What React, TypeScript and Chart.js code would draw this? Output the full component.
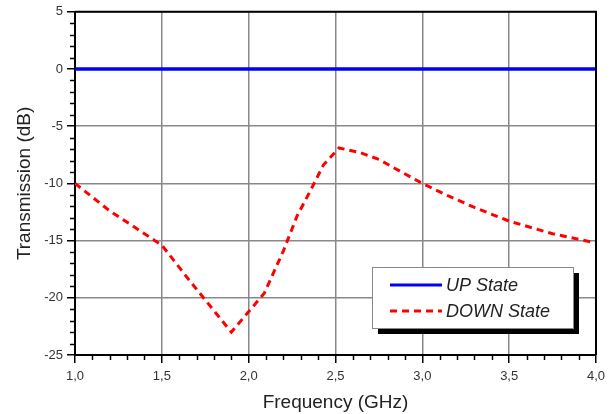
import React, { useEffect, useRef } from "react";
import { Chart, registerables } from "chart.js";

Chart.register(...registerables);

const upFreq = [1.0, 1.5, 2.0, 2.5, 3.0, 3.5, 4.0];
const upValues = [0, 0, 0, 0, 0, 0, 0];

const downFreq = [1.0, 1.2, 1.5, 1.66, 1.9, 2.09, 2.2, 2.28, 2.35, 2.43, 2.52, 2.64, 2.75, 2.82, 3.0, 3.15, 3.3, 3.5, 3.75, 4.0];
const downValues = [-10, -12.4, -15.4, -18.5, -23.0, -19.6, -15.9, -12.8, -10.8, -8.4, -6.9, -7.3, -7.9, -8.5, -10.0, -11.1, -12.1, -13.3, -14.4, -15.2];

const seriesLabels = ["UP State", "DOWN State"];

const X_MIN = 1.0, X_MAX = 4.0, X_STEP = 0.5, X_MINOR = 0.1;
const Y_MIN = -25, Y_MAX = 5, Y_STEP = 5, Y_MINOR = 1;

const fmtX = (v: number) => v.toFixed(1).replace(".", ",");

const framePlugin = {
  id: "frameAndMinor",
  afterDraw(chart: any) {
    const { ctx, chartArea: a, scales } = chart;
    const xs = scales.x, ys = scales.y;
    ctx.save();
    ctx.strokeStyle = "#000";
    ctx.lineWidth = 1.5;
    // minor ticks
    for (let i = 0; i <= Math.round((Y_MAX - Y_MIN) / Y_MINOR); i++) {
      const v = Y_MIN + i * Y_MINOR;
      if (Math.abs(v / Y_STEP - Math.round(v / Y_STEP)) < 1e-6) continue;
      const py = Math.round(ys.getPixelForValue(v)) + 0.5;
      ctx.beginPath();
      ctx.moveTo(a.left - 5, py);
      ctx.lineTo(a.left, py);
      ctx.stroke();
    }
    for (let i = 0; i <= Math.round((X_MAX - X_MIN) / X_MINOR); i++) {
      const v = X_MIN + i * X_MINOR;
      if (Math.abs(v / X_STEP - Math.round(v / X_STEP)) < 1e-6) continue;
      const px = Math.round(xs.getPixelForValue(v)) + 0.5;
      ctx.beginPath();
      ctx.moveTo(px, a.bottom);
      ctx.lineTo(px, a.bottom + 5);
      ctx.stroke();
    }
    // top and right frame
    ctx.lineWidth = 2;
    ctx.beginPath();
    ctx.moveTo(a.left, a.top);
    ctx.lineTo(a.right, a.top);
    ctx.lineTo(a.right, a.bottom);
    ctx.stroke();

    // legend box
    const bw = 201, bh = 61;
    const bx = a.right - 23 - bw;
    const by = a.bottom - 27 - bh;
    ctx.fillStyle = "#000";
    ctx.fillRect(bx + 6, by + 6, bw, bh);
    ctx.fillStyle = "#fff";
    ctx.fillRect(bx, by, bw, bh);
    ctx.strokeStyle = "#888";
    ctx.lineWidth = 1;
    ctx.strokeRect(bx + 0.5, by + 0.5, bw, bh);
    chart.data.datasets.forEach((ds: any, i: number) => {
      const ly = by + 18 + i * 26;
      ctx.strokeStyle = ds.borderColor;
      ctx.lineWidth = 3;
      ctx.setLineDash(ds.borderDash || []);
      ctx.beginPath();
      ctx.moveTo(bx + 18, ly);
      ctx.lineTo(bx + 70, ly);
      ctx.stroke();
      ctx.setLineDash([]);
      ctx.fillStyle = "#222";
      ctx.font = "italic 18px 'Liberation Sans', Arial, sans-serif";
      ctx.textBaseline = "middle";
      ctx.textAlign = "left";
      ctx.fillText(ds.label, bx + 74, ly + 1);
    });
    ctx.restore();
  },
};

export default function App() {
  const ref = useRef<HTMLCanvasElement>(null);
  useEffect(() => {
    document.body.style.margin = "0";
    const canvas = ref.current;
    if (!canvas) return;
    const chart = new Chart(canvas, {
      type: "line",
      data: {
        datasets: [
          {
            label: seriesLabels[0],
            data: upFreq.map((x, i) => ({ x, y: upValues[i] })),
            borderColor: "#0000ff",
            borderWidth: 3.5,
            pointRadius: 0,
            fill: false,
          },
          {
            label: seriesLabels[1],
            data: downFreq.map((x, i) => ({ x, y: downValues[i] })),
            borderColor: "#ff0000",
            borderWidth: 3,
            borderDash: [7, 5],
            pointRadius: 0,
            fill: false,
          },
        ],
      },
      options: {
        animation: false,
        responsive: false,
        layout: { padding: { left: 0, right: 17, top: 10, bottom: 0 } },
        plugins: { legend: { display: false }, tooltip: { enabled: false } },
        scales: {
          x: {
            type: "linear",
            min: X_MIN,
            max: X_MAX,
            afterFit: (s: any) => { s.height = 59; },
            ticks: {
              stepSize: X_STEP,
              callback: (v: any) => fmtX(Number(v)),
              color: "#333",
              font: { family: "'Liberation Sans', Arial, sans-serif", size: 13 },
              padding: 6,
              autoSkip: false,
              maxRotation: 0,
            },
            grid: { color: "#888", lineWidth: 1.5, tickColor: "#000", tickLength: 8, tickWidth: 1.5 },
            border: { color: "#000", width: 2 },
            title: {
              display: true,
              text: "Frequency (GHz)",
              color: "#222",
              font: { family: "'Liberation Sans', Arial, sans-serif", size: 19 },
              padding: { top: 2, bottom: 0 },
            },
          },
          y: {
            type: "linear",
            min: Y_MIN,
            max: Y_MAX,
            afterFit: (s: any) => { s.width = 75; },
            ticks: {
              stepSize: Y_STEP,
              color: "#333",
              font: { family: "'Liberation Sans', Arial, sans-serif", size: 13 },
              padding: 4,
            },
            grid: { color: "#888", lineWidth: 1.5, tickColor: "#000", tickLength: 8, tickWidth: 1.5 },
            border: { color: "#000", width: 2 },
            title: {
              display: true,
              text: "Transmission (dB)",
              color: "#222",
              font: { family: "'Liberation Sans', Arial, sans-serif", size: 19 },
              padding: { top: 13, bottom: 0 },
            },
          },
        },
      },
      plugins: [framePlugin],
    } as any);
    return () => chart.destroy();
  }, []);
  return (
    <div style={{ width: 613, height: 414 }}>
      <canvas ref={ref} width={613} height={414} style={{ display: "block" }} />
    </div>
  );
}
